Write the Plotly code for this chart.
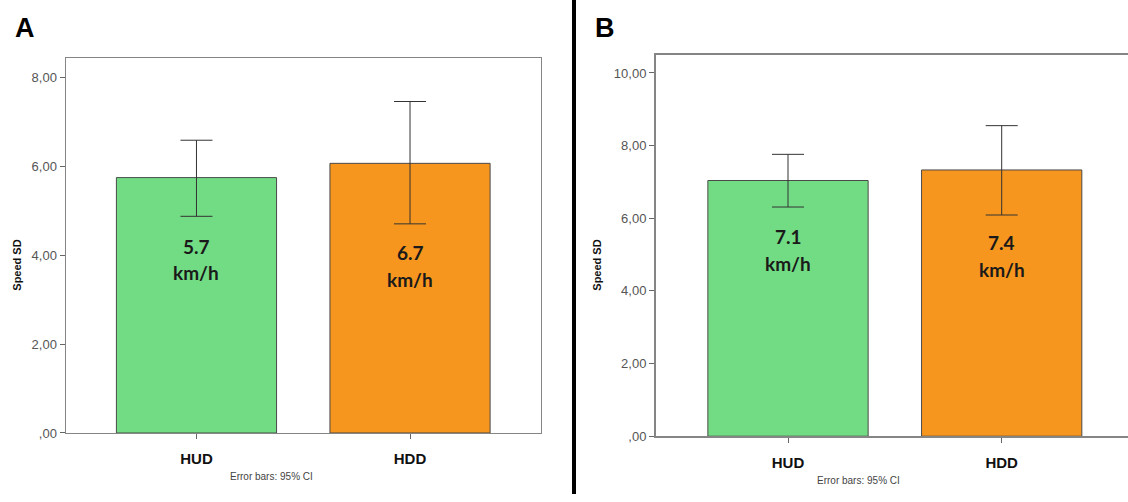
import plotly.graph_objects as go

W, H = 1128, 502

categories = ["HUD", "HDD"]
colors = ["#72DC85", "#F7961E"]

# Panel A
a_means = [5.74, 6.06]
a_ci_hi = [6.58, 7.45]
a_ci_lo = [4.87, 4.70]
a_value_text = ["5.7", "6.7"]
a_tickvals = [0, 2, 4, 6, 8]
a_ticktext = [",00", "2,00", "4,00", "6,00", "8,00"]

# Panel B
b_means = [7.04, 7.33]
b_ci_hi = [7.76, 8.55]
b_ci_lo = [6.31, 6.09]
b_value_text = ["7.1", "7.4"]
b_tickvals = [0, 2, 4, 6, 8, 10]
b_ticktext = [",00", "2,00", "4,00", "6,00", "8,00", "10,00"]

unit_text = "km/h"

def px_x(p):
    return p / W

def px_y(p):
    return (H - p) / H

fig = go.Figure()

def add_panel(means, hi, lo, xa, ya):
    fig.add_trace(go.Bar(
        x=categories, y=means, width=0.75,
        marker=dict(color=colors, line=dict(color="#4a4a4a", width=1)),
        error_y=dict(type="data", symmetric=False,
                     array=[h - m for h, m in zip(hi, means)],
                     arrayminus=[m - l for m, l in zip(means, lo)],
                     color="#333333", thickness=1, width=16),
        xaxis=xa, yaxis=ya, showlegend=False, hoverinfo="skip"))

add_panel(a_means, a_ci_hi, a_ci_lo, "x", "y")
add_panel(b_means, b_ci_hi, b_ci_lo, "x2", "y2")

tickfont = dict(family="Liberation Sans, Arial", size=13, color="#555555")
catfont = dict(family="Liberation Sans, Arial", size=15, color="#111111")

axis_common = dict(showgrid=False, zeroline=False, showline=True,
                   linecolor="#858585", linewidth=1.5, ticks="outside",
                   ticklen=5, tickcolor="#666666", fixedrange=True)

fig.update_layout(
    width=W, height=H,
    margin=dict(l=0, r=0, t=0, b=0),
    paper_bgcolor="white", plot_bgcolor="white",
    xaxis=dict(domain=[px_x(66), px_x(540.5)], range=[-0.611, 1.611],
               anchor="y", mirror=True, tickfont=catfont, ticklabelstandoff=7,
               tickprefix="<b>", ticksuffix="</b>", **axis_common),
    yaxis=dict(domain=[px_y(440), px_y(59.3)], range=[0, 8.42],
               anchor="x", mirror=True, tickvals=a_tickvals,
               ticktext=a_ticktext, tickfont=tickfont, **axis_common),
    xaxis2=dict(domain=[px_x(655.5), 1.0], range=[-0.62, 1.591],
                anchor="y2", mirror=True, tickfont=catfont, ticklabelstandoff=7,
                tickprefix="<b>", ticksuffix="</b>", **axis_common),
    yaxis2=dict(domain=[px_y(443.3), px_y(55.7)], range=[0, 10.5],
                anchor="x2", mirror=False, tickvals=b_tickvals,
                ticktext=b_ticktext, tickfont=tickfont, **axis_common),
)

labfont = dict(family="Lato, Noto Sans", size=19, color="#1a1a1a")
ann = []
a_val_y = [4.20, 4.05]
a_unit_y = [3.61, 3.44]
b_val_y = [5.51, 5.32]
b_unit_y = [4.75, 4.60]
for i, c in enumerate(categories):
    ann.append(dict(x=c, y=a_val_y[i], xref="x", yref="y", text="<b>" + a_value_text[i] + "</b>",
                    showarrow=False, font=labfont, xanchor="center", yanchor="middle"))
    ann.append(dict(x=c, y=a_unit_y[i], xref="x", yref="y", text="<b>" + unit_text + "</b>",
                    showarrow=False, font=labfont, xanchor="center", yanchor="middle"))
    ann.append(dict(x=c, y=b_val_y[i], xref="x2", yref="y2", text="<b>" + b_value_text[i] + "</b>",
                    showarrow=False, font=labfont, xanchor="center", yanchor="middle"))
    ann.append(dict(x=c, y=b_unit_y[i], xref="x2", yref="y2", text="<b>" + unit_text + "</b>",
                    showarrow=False, font=labfont, xanchor="center", yanchor="middle"))

small = dict(family="Liberation Sans, Arial", size=10, color="#444444")
ylab = dict(family="Liberation Sans, Arial", size=11, color="#111111")
big = dict(family="Liberation Sans, Arial", size=27, color="#000000")

def pann(x, y, text, font, angle=0):
    return dict(x=px_x(x), y=px_y(y), xref="paper", yref="paper", text=text,
                showarrow=False, font=font, textangle=angle,
                xanchor="center", yanchor="middle")

ann += [
    pann(271, 484, "Error bars: 95% CI", small),
    pann(858, 488, "Error bars: 95% CI", small),
    pann(17, 270, "<b>Speed SD</b>", ylab, -90),
    pann(597, 270, "<b>Speed SD</b>", ylab, -90),
    pann(25, 28, "<b>A</b>", big),
    pann(605, 28, "<b>B</b>", big),
]
fig.update_layout(annotations=ann)

fig.add_shape(type="line", xref="paper", yref="paper",
              x0=px_x(574), x1=px_x(574), y0=0, y1=1,
              line=dict(color="black", width=4))

fig.write_html("out.html",
               config={"displayModeBar": False, "staticPlot": True},
               post_script="document.body.style.margin='0';document.body.style.overflow='hidden';")
